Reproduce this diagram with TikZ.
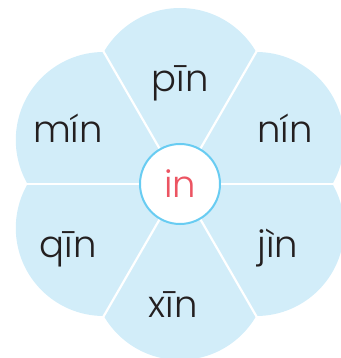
\documentclass[tikz,border=0pt]{standalone}
\usepackage{fontspec}
\setmainfont{Poppins}[UprightFont=* Light]
\usepackage{xcolor}
\definecolor{petalblue}{RGB}{210,237,249}
\definecolor{ringblue}{RGB}{104,204,242}
\definecolor{syllred}{RGB}{236,84,98}
\definecolor{inkgray}{RGB}{35,31,32}

\begin{document}
\begin{tikzpicture}[x=1pt,y=1pt,
    syllable/.style={font=\fontsize{37}{40}\selectfont, text=inkgray, anchor=base, inner sep=0pt}]
  \useasboundingbox (-180,-174) rectangle (160,184);
  % six petals, each a circle through the centre cut to its wedge
  \foreach \a in {30,90,...,330} {
    \begin{scope}
      \clip (0,0) -- (\a-30:300) -- (\a+30:300) -- cycle;
      \fill[petalblue] (\a:88) circle (88);
    \end{scope}
  }
  \foreach \a in {0,60,...,300}
    \draw[white, line width=2.2pt] (0,0) -- (\a:200);
  \node[circle, draw=ringblue, line width=2pt, fill=white, minimum size=80pt] (hub) at (0,0) {};
  \node[syllable, text=syllred] (rime) at (0,-14) {in};
  \node[syllable] (pin) at (0,92) {pīn};
  \node[syllable] (nin) at (105,41) {nín};
  \node[syllable] (min) at (-112,41) {mín};
  \node[syllable] (qin) at (-112,-74) {qīn};
  \node[syllable] (jin) at (98,-74) {jìn};
  \node[syllable] (xin) at (-7,-133) {xīn};
\end{tikzpicture}
\end{document}
